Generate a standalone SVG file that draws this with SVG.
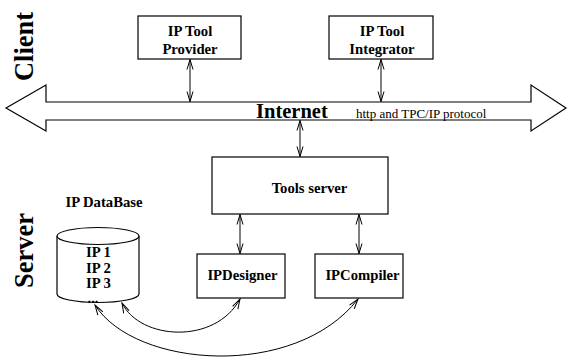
<svg xmlns="http://www.w3.org/2000/svg" width="568" height="358" viewBox="0 0 568 358">
<style>
.box{fill:#fff;stroke:#000;stroke-width:1.2}
.lbl{font-family:"Liberation Serif","Times New Roman",serif;font-weight:bold;font-size:14.7px;fill:#000;text-anchor:middle}
.big{font-family:"Liberation Serif","Times New Roman",serif;font-weight:bold;font-size:26.5px;fill:#000;text-anchor:middle}
.con{fill:none;stroke:#000;stroke-width:1}
</style>
<defs>
<marker id="ah" markerUnits="userSpaceOnUse" markerWidth="14" markerHeight="10" viewBox="-12 -5 14 10" refX="0" refY="0" orient="auto-start-reverse">
<path d="M-10,-3 L0,0 L-10,3" fill="none" stroke="#000" stroke-width="1"/>
</marker>
</defs>
<rect width="568" height="358" fill="#fff"/>
<text class="big" transform="translate(33,46.5) rotate(-90)">Client</text>
<text class="big" transform="translate(33,250.5) rotate(-90)">Server</text>
<g id="internet">
<polygon points="6,108 46,85 46,102 531,102 531,85 566,108 531,131 531,120 46,120 46,131" fill="#fff" stroke="#000" stroke-width="1.2"/>
<text x="256" y="118" font-family="'Liberation Serif','Times New Roman',serif" font-weight="bold" font-size="20.5">Internet</text>
<text x="356" y="117.5" font-family="'Liberation Serif','Times New Roman',serif" font-size="13">http and TPC/IP protocol</text>
</g>
<g id="provider">
<rect class="box" x="138" y="16" width="103" height="43"/>
<text class="lbl" x="190" y="36">IP Tool</text>
<text class="lbl" x="190" y="53.5">Provider</text>
</g>
<g id="integrator">
<rect class="box" x="329" y="16" width="104" height="43"/>
<text class="lbl" x="382" y="36">IP Tool</text>
<text class="lbl" x="382" y="53.5">Integrator</text>
</g>
<g id="toolsserver">
<rect class="box" x="212" y="157" width="176" height="57"/>
<text class="lbl" x="309.5" y="193">Tools server</text>
</g>
<g id="ipdesigner">
<rect class="box" x="197" y="254" width="88" height="44"/>
<text class="lbl" x="242.5" y="280">IPDesigner</text>
</g>
<g id="ipcompiler">
<rect class="box" x="315" y="254" width="88" height="44"/>
<text class="lbl" x="362.5" y="280">IPCompiler</text>
</g>
<g id="database">
<text class="lbl" x="104" y="207">IP DataBase</text>
<path d="M57,236 L57,294 A41,8.5 0 0 0 139,294 L139,236" fill="#fff" stroke="#000" stroke-width="1.2"/>
<ellipse cx="98" cy="236" rx="41" ry="8.5" fill="#fff" stroke="#000" stroke-width="1.2"/>
<text class="lbl" x="98.5" y="257">IP 1</text>
<text class="lbl" x="98.5" y="272.5">IP 2</text>
<text class="lbl" x="98.5" y="287.5">IP 3</text>
<text class="lbl" x="93" y="303" font-size="13">...</text>
</g>
<g id="connectors">
<line class="con" x1="190" y1="59.5" x2="190" y2="101.5" marker-start="url(#ah)" marker-end="url(#ah)"/>
<line class="con" x1="381" y1="59.5" x2="381" y2="101.5" marker-start="url(#ah)" marker-end="url(#ah)"/>
<line class="con" x1="300" y1="120.5" x2="300" y2="156.5" marker-start="url(#ah)" marker-end="url(#ah)"/>
<line class="con" x1="240" y1="214.5" x2="240" y2="253.5" marker-start="url(#ah)" marker-end="url(#ah)"/>
<line class="con" x1="359" y1="214.5" x2="359" y2="253.5" marker-start="url(#ah)" marker-end="url(#ah)"/>
<path class="con" d="M122,303 C140,340 215,345 240,299" marker-start="url(#ah)" marker-end="url(#ah)"/>
<path class="con" d="M95,305 C135,368 295,380 358,299" marker-start="url(#ah)" marker-end="url(#ah)"/>
</g>
</svg>
